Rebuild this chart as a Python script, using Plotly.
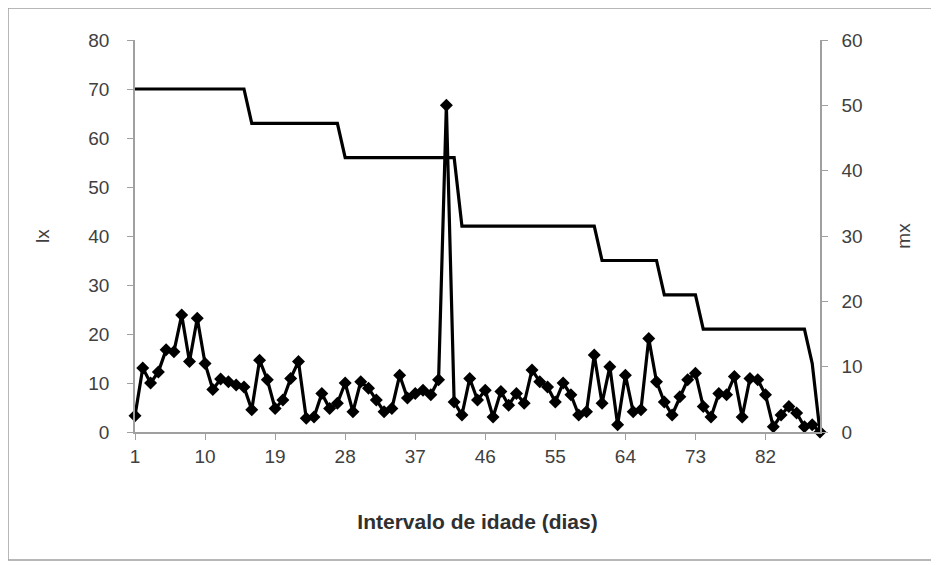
import plotly.graph_objects as go

# Age interval (days)
x_days = list(range(1, 90))

# lx (left axis) - survivorship
lx = ([70] * 15 + [63] * 12 + [56] * 15 + [42] * 18 + [35] * 8 + [28] * 5 + [21] * 14 + [14, 0])

# mx (right axis) - fecundity
mx = [2.5, 9.8, 7.5, 9.2, 12.6, 12.3, 17.9, 10.8, 17.4, 10.5,
      6.5, 8.1, 7.7, 7.2, 6.9, 3.4, 11.0, 8.0, 3.6, 4.9,
      8.2, 10.8, 2.1, 2.3, 5.9, 3.6, 4.4, 7.5, 3.1, 7.7,
      6.7, 4.9, 3.1, 3.6, 8.7, 5.2, 5.9, 6.4, 5.7, 8.0,
      50.0, 4.6, 2.6, 8.2, 4.9, 6.4, 2.3, 6.2, 4.1, 5.9,
      4.4, 9.5, 7.7, 6.9, 4.6, 7.5, 5.7, 2.6, 3.1, 11.8,
      4.4, 10.0, 1.1, 8.7, 3.1, 3.4, 14.3, 7.7, 4.6, 2.6,
      5.4, 8.0, 9.0, 3.9, 2.3, 5.9, 5.7, 8.5, 2.3, 8.2,
      8.0, 5.7, 0.8, 2.6, 3.9, 2.9, 0.8, 1.1, 0.0]

x_tickvals = list(range(1, 90, 9))

font_family = "Liberation Sans, Arial, sans-serif"
txt = "#404040"

fig = go.Figure()
fig.add_trace(go.Scatter(x=x_days, y=lx, mode="lines", name="lx",
                         line=dict(color="black", width=3.2), yaxis="y"))
fig.add_trace(go.Scatter(x=x_days, y=mx, mode="lines+markers", name="mx",
                         line=dict(color="black", width=3.2),
                         marker=dict(symbol="diamond", size=10, color="black"),
                         yaxis="y2", cliponaxis=False))

axis_common = dict(showline=True, linecolor="#a0a0a0", linewidth=1.5,
                   ticks="outside", ticklen=6, tickcolor="#a0a0a0",
                   showgrid=False, zeroline=False)

fig.update_layout(
    width=939, height=565,
    margin=dict(l=127, r=127, t=32, b=141),
    paper_bgcolor="white", plot_bgcolor="white",
    showlegend=False,
    font=dict(family=font_family, size=19, color=txt),
    xaxis=dict(range=[1, 89], tickmode="array", tickvals=x_tickvals,
               ticklabelstandoff=0,
               title=dict(text="<b>Intervalo de idade (dias)</b>",
                          font=dict(size=21, color="#303030"), standoff=49),
               **axis_common),
    yaxis=dict(range=[0, 80], dtick=10, ticklabelstandoff=14,
               title=dict(text="lx", standoff=34, font=dict(size=19)),
               **axis_common),
    yaxis2=dict(range=[0, 60], dtick=10, overlaying="y", side="right",
                ticklabelstandoff=10,
                title=dict(text="mx", standoff=35, font=dict(size=19)),
                **axis_common),
)

# outer chart border
fig.add_shape(type="rect", xref="paper", yref="paper",
              x0=-127 / 685, x1=(928 - 127) / 685,
              y0=-(552 - 424) / 392, y1=(424 - 0) / 392,
              line=dict(color="#a0a0a0", width=1.5), fillcolor="rgba(0,0,0,0)")

fig.write_html("out.html")
